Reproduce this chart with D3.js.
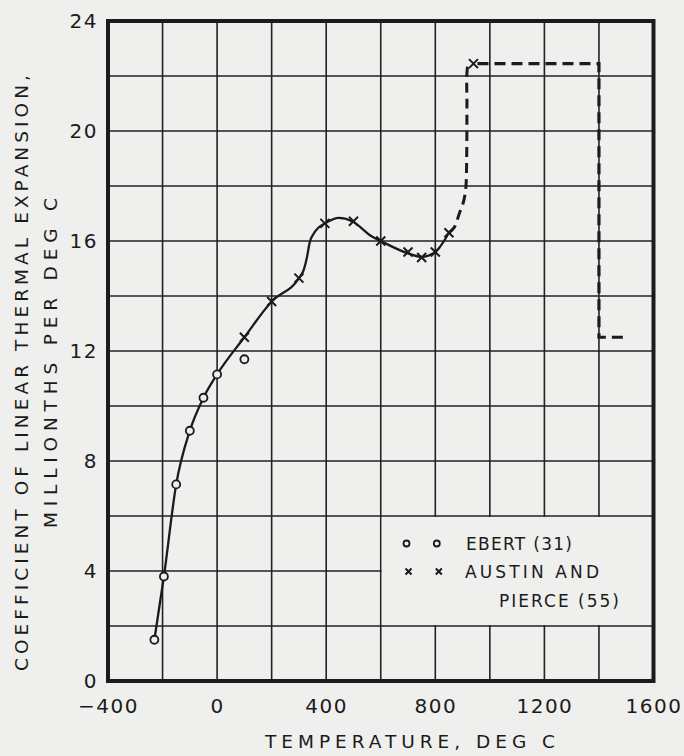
<!DOCTYPE html>
<html>
<head>
<meta charset="utf-8">
<script src="https://cdn.jsdelivr.net/npm/d3@7"></script>
<style>
  html, body { margin: 0; padding: 0; background: #efefed; }
  svg { display: block; font-family: "DejaVu Sans", sans-serif; }
</style>
</head>
<body>
<script>
// ---- Data ----
const xTickValues = [-400, 0, 400, 800, 1200, 1600];
const xTickLabels = ["\u2212400", "0", "400", "800", "1200", "1600"];
const yTickValues = [0, 4, 8, 12, 16, 20, 24];
const yTickLabels = ["0", "4", "8", "12", "16", "20", "24"];

// Ebert (31) — open circles
const ebertTemp = [-230, -195, -150, -100, -50, 0, 100];
const ebertCoef = [1.5, 3.8, 7.15, 9.1, 10.3, 11.15, 11.7];

// Austin and Pierce (55) — crosses
const austinTemp = [100, 200, 300, 395, 500, 600, 700, 750, 800, 850, 940];
const austinCoef = [12.5, 13.8, 14.65, 16.64, 16.72, 16.0, 15.6, 15.4, 15.6, 16.3, 22.45];

// Faired curve (solid part)
const solidTemp = [-230, -195, -150, -100, -50, 0, 100, 200, 300, 318, 330, 339, 355, 373, 395, 446, 495, 568, 600, 700, 750, 800, 850];
const solidCoef = [1.5, 3.8, 7.15, 9.1, 10.3, 11.15, 12.5, 13.8, 14.65, 14.96, 15.44, 15.93, 16.28, 16.5, 16.64, 16.84, 16.72, 16.16, 16.0, 15.55, 15.42, 15.6, 16.3];

// Faired curve (dashed, curved part)
const dashCurveTemp = [850, 870, 888, 904, 912, 915, 916, 916, 921, 940];
const dashCurveCoef = [16.3, 16.5, 17.0, 17.45, 17.95, 19.0, 21.0, 22.1, 22.38, 22.45];

// Dashed step part
const dashStepTemp = [940, 1400, 1400, 1500];
const dashStepCoef = [22.45, 22.45, 12.5, 12.5];

// Legend
const legendLabels = ["EBERT (31)", "AUSTIN AND", "PIERCE (55)"];

// ---- Layout ----
const W = 684, H = 756;
const ink = "#1b1b1b";
const bg = "#efefed";

const svg = d3.select("body").append("svg").attr("width", W).attr("height", H);

const x = d3.scaleLinear().domain([-400, 1600]).range([108, 653.5]);
const y = d3.scaleLinear().domain([0, 24]).range([681, 21]);

// Grid
const grid = svg.append("g").attr("stroke", "#222").attr("stroke-width", 1.6);
grid.selectAll("line.v").data(d3.range(-400, 1601, 200)).join("line")
  .attr("class", "v")
  .attr("x1", d => x(d)).attr("x2", d => x(d))
  .attr("y1", y(0)).attr("y2", y(24));
grid.selectAll("line.h").data(d3.range(0, 25, 2)).join("line")
  .attr("class", "h")
  .attr("y1", d => y(d)).attr("y2", d => y(d))
  .attr("x1", x(-400)).attr("x2", x(1600));

// Legend background (clears grid inside legend box)
svg.append("rect")
  .attr("x", x(600) + 1).attr("y", y(6) + 1)
  .attr("width", x(1600) - x(600) - 1).attr("height", y(2) - y(6) - 2)
  .attr("fill", bg);

// Frame
svg.append("rect")
  .attr("x", x(-400)).attr("y", y(24))
  .attr("width", x(1600) - x(-400)).attr("height", y(0) - y(24))
  .attr("fill", "none").attr("stroke", ink).attr("stroke-width", 4);

// Axes (labels only)
const xAxis = d3.axisBottom(x).tickValues(xTickValues)
  .tickFormat((d, i) => xTickLabels[i]).tickSize(0).tickPadding(0);
const gx = svg.append("g").attr("transform", `translate(0,${y(0)})`).call(xAxis);
gx.select(".domain").remove();
gx.selectAll("text")
  .attr("y", 32).attr("dy", 0)
  .attr("fill", ink)
  .style("font-size", "20px")
  .style("letter-spacing", "1.5px")
  .style("font-family", "DejaVu Sans, sans-serif");

const yAxis = d3.axisLeft(y).tickValues(yTickValues)
  .tickFormat((d, i) => yTickLabels[i]).tickSize(0).tickPadding(0);
const gy = svg.append("g").attr("transform", `translate(98,0)`).call(yAxis);
gy.select(".domain").remove();
gy.selectAll("text")
  .attr("x", 0).attr("dy", "0.32em")
  .attr("fill", ink)
  .style("font-size", "20px")
  .style("letter-spacing", "1.5px")
  .style("font-family", "DejaVu Sans, sans-serif");

// Axis titles
svg.append("text")
  .attr("x", 265).attr("y", 748)
  .attr("textLength", 290).attr("lengthAdjust", "spacing")
  .attr("fill", ink).style("font-size", "18.5px")
  .text("TEMPERATURE, DEG C");

svg.append("text")
  .attr("transform", "translate(28,671) rotate(-90)")
  .attr("textLength", 596).attr("lengthAdjust", "spacing")
  .attr("fill", ink).style("font-size", "18.5px")
  .text("COEFFICIENT OF LINEAR THERMAL EXPANSION,");

svg.append("text")
  .attr("transform", "translate(57,528) rotate(-90)")
  .attr("textLength", 330).attr("lengthAdjust", "spacing")
  .attr("fill", ink).style("font-size", "18.5px")
  .text("MILLIONTHS PER DEG C");

// Curves
const solidData = solidTemp.map((t, i) => [t, solidCoef[i]]);
const dashCurveData = dashCurveTemp.map((t, i) => [t, dashCurveCoef[i]]);
const dashStepData = dashStepTemp.map((t, i) => [t, dashStepCoef[i]]);

const lineSmooth = d3.line().x(d => x(d[0])).y(d => y(d[1])).curve(d3.curveMonotoneX);
const lineCurve = d3.line().x(d => x(d[0])).y(d => y(d[1])).curve(d3.curveCatmullRom.alpha(0.5));
const lineStep = d3.line().x(d => x(d[0])).y(d => y(d[1]));

svg.append("path").datum(solidData).attr("d", lineSmooth)
  .attr("fill", "none").attr("stroke", ink).attr("stroke-width", 2.3)
  .attr("stroke-linejoin", "round");

svg.append("path").datum(dashCurveData).attr("d", lineCurve)
  .attr("fill", "none").attr("stroke", ink).attr("stroke-width", 3)
  .attr("stroke-dasharray", "10,6");

svg.append("path").datum(dashStepData).attr("d", lineStep)
  .attr("fill", "none").attr("stroke", ink).attr("stroke-width", 3.2)
  .attr("stroke-dasharray", "11,6").attr("stroke-dashoffset", -4);

// Markers: Ebert circles
svg.append("g").selectAll("circle").data(ebertTemp.map((t, i) => [t, ebertCoef[i]])).join("circle")
  .attr("cx", d => x(d[0])).attr("cy", d => y(d[1])).attr("r", 4)
  .attr("fill", bg).attr("stroke", ink).attr("stroke-width", 1.8);

// Markers: Austin & Pierce crosses
const xs = 4.5;
svg.append("g").selectAll("path").data(austinTemp.map((t, i) => [t, austinCoef[i]])).join("path")
  .attr("d", d => {
    const cx = x(d[0]), cy = y(d[1]);
    return `M${cx - xs},${cy - xs}L${cx + xs},${cy + xs}M${cx - xs},${cy + xs}L${cx + xs},${cy - xs}`;
  })
  .attr("stroke", ink).attr("stroke-width", 2).attr("fill", "none");

// Legend
const leg = svg.append("g");
[406.5, 436.8].forEach(cx => {
  leg.append("circle").attr("cx", cx).attr("cy", 543.5).attr("r", 3)
    .attr("fill", "none").attr("stroke", ink).attr("stroke-width", 1.8);
  const cxx = cx + 2, cy = 571.5, s = 3;
  leg.append("path")
    .attr("d", `M${cxx - s},${cy - s}L${cxx + s},${cy + s}M${cxx - s},${cy + s}L${cxx + s},${cy - s}`)
    .attr("stroke", ink).attr("stroke-width", 2).attr("fill", "none");
});
const legPos = [[466, 549.5, 106], [465, 578, 134], [499, 606.5, 120]];
legendLabels.forEach((lab, i) => {
  leg.append("text")
    .attr("x", legPos[i][0]).attr("y", legPos[i][1])
    .attr("textLength", legPos[i][2]).attr("lengthAdjust", "spacing")
    .attr("fill", ink).style("font-size", "17px")
    .text(lab);
});
</script>
</body>
</html>
